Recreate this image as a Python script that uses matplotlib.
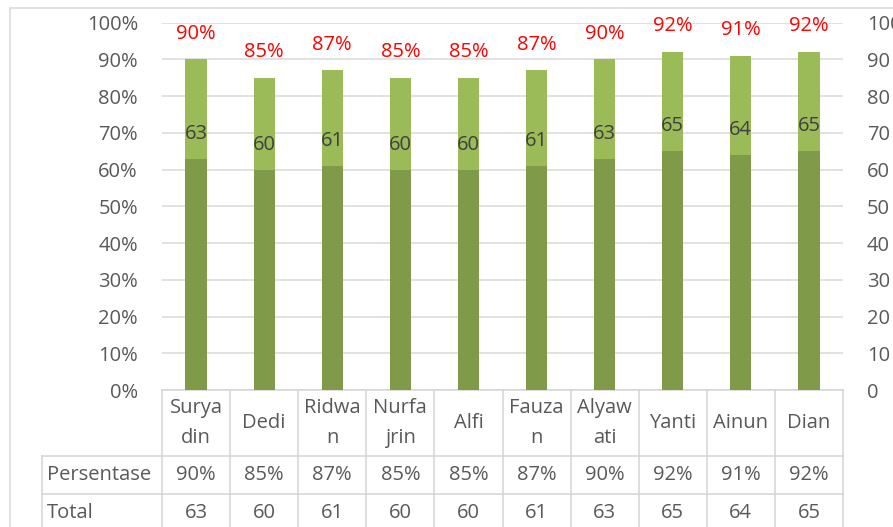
import matplotlib
matplotlib.use("Agg")
import matplotlib.pyplot as plt
from matplotlib.patches import Rectangle
from matplotlib.transforms import blended_transform_factory

# ---- data ----
names = ["Surya\ndin", "Dedi", "Ridwa\nn", "Nurfa\njrin", "Alfi",
         "Fauza\nn", "Alyaw\nati", "Yanti", "Ainun", "Dian"]
persentase = [90, 85, 87, 85, 85, 87, 90, 92, 91, 92]
total = [63, 60, 61, 60, 60, 61, 63, 65, 64, 65]
row_labels = ["Persentase", "Total"]
ticks = list(range(0, 101, 10))
left_ticklabels = [f"{v}%" for v in ticks]
right_ticklabels = [f"{v}" for v in ticks]

plt.rcParams['font.family'] = ['Open Sans', 'DejaVu Sans']

W, H = 893, 527
fig = plt.figure(figsize=(W / 100, H / 100), dpi=100)

LIGHT = "#9BBB59"
DARK = "#7F9B4A"
GRID = "#D9D9D9"
TXT = "#595959"
FS = 14.5

# plot area in pixels
x0, x1 = 162, 843
ytop, ybot = 22.6, 390
ax = fig.add_axes([x0 / W, (H - ybot) / H, (x1 - x0) / W, (ybot - ytop) / H])
ax.set_xlim(-0.5, len(names) - 0.5)
ax.set_ylim(0, 100)
ax.set_axisbelow(True)
ax.yaxis.grid(True, color=GRID, lw=1.1)
ax.set_yticks(ticks)
ax.set_yticklabels(left_ticklabels)
ax.set_xticks([])
ax.tick_params(axis='y', length=0, pad=17.3, labelsize=FS, labelcolor=TXT)
for s in ax.spines.values():
    s.set_visible(False)

x = list(range(len(names)))
bw = 0.31
ax.bar(x, persentase, width=bw, color=LIGHT, zorder=2)

ax2 = ax.twinx()
ax2.set_ylim(0, 100)
ax2.set_yticks(ticks)
ax2.set_yticklabels(right_ticklabels)
ax2.tick_params(axis='y', length=0, pad=17.3, labelsize=FS, labelcolor=TXT)
for s in ax2.spines.values():
    s.set_visible(False)
ax2.bar(x, total, width=bw, color=DARK, zorder=2)

for xi, p, t in zip(x, persentase, total):
    ax2.annotate(f"{p}%", (xi, p), xytext=(0, 18.5), textcoords="offset points",
                 ha="center", va="center", color="#FF0000", fontsize=FS)
    ax2.annotate(f"{t}", (xi, t), xytext=(0, 18.0), textcoords="offset points",
                 ha="center", va="center", color="#404040", fontsize=FS)

# ---- data table ----
ppu = ybot - ytop  # pixels per axes unit
colw = (x1 - x0) / len(names)
trans = blended_transform_factory(ax.transData, ax.transAxes)
y_r1 = -(456 - ybot) / ppu
y_r2 = -(494 - ybot) / ppu
y_r3 = -(532 - ybot) / ppu
y_end = -0.5
xl = -0.5 - (x0 - 42) / colw
LC = "#D4D4D4"
lw = 1.1
xr = len(names) - 0.5

# horizontal lines
ax.plot([-0.5, xr], [0, 0], color=LC, lw=lw, transform=trans, clip_on=False)
for yy in (y_r1, y_r2, y_r3):
    ax.plot([xl, xr], [yy, yy], color=LC, lw=lw, transform=trans, clip_on=False)
# vertical lines
for k in range(len(names) + 1):
    xv = -0.5 + k
    ax.plot([xv, xv], [0, y_end], color=LC, lw=lw, transform=trans, clip_on=False)
ax.plot([xl, xl], [y_r1, y_end], color=LC, lw=lw, transform=trans, clip_on=False)

# texts
for xi, n in zip(x, names):
    ax.text(xi, y_r1 / 2, n, transform=trans, ha="center", va="center",
            fontsize=FS, color=TXT, linespacing=1.7)
rows = [[f"{p}%" for p in persentase], [f"{t}" for t in total]]
ycent = [(y_r1 + y_r2) / 2, (y_r2 + y_r3) / 2]
for lab, vals, yc in zip(row_labels, rows, ycent):
    ax.text(xl + 5 / colw, yc, lab, transform=trans, ha="left", va="center",
            fontsize=FS, color=TXT)
    for xi, v in zip(x, vals):
        ax.text(xi, yc, v, transform=trans, ha="center", va="center",
                fontsize=FS, color=TXT)

# outer chart border (partly cut off)
fig.add_artist(Rectangle((10 / W, -0.5), 2, 1.5 - 8 / H, transform=fig.transFigure,
                         fill=False, edgecolor=GRID, lw=1.1))

fig.savefig("out.png", dpi=100)
